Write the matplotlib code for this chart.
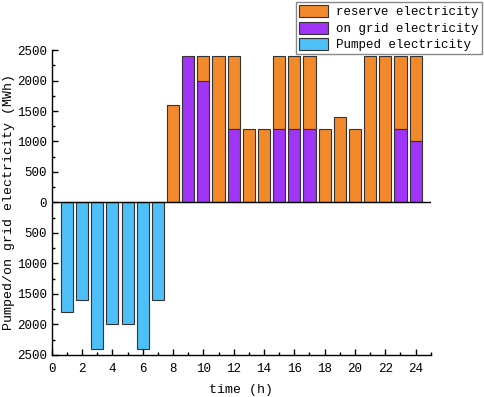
import matplotlib.pyplot as plt
import numpy as np
from matplotlib.ticker import MultipleLocator, FuncFormatter

plt.rcParams['font.family'] = ['Liberation Mono', 'DejaVu Sans Mono']
plt.rcParams['font.size'] = 9

hours = np.arange(1, 25)
pumped = [1800, 1600, 2400, 2000, 2000, 2400, 1600] + [0] * 17
on_grid = [0] * 7 + [0, 2400, 2000, 0, 1200, 0, 0, 1200, 1200, 1200,
                     0, 0, 0, 0, 0, 1200, 1000]
reserve = [0] * 7 + [1600, 0, 400, 2400, 1200, 1200, 1200, 1200, 1200, 1200,
                     1200, 1400, 1200, 2400, 2400, 1200, 1400]

c_reserve = "#F28A2C"
c_grid = "#A035F7"
c_pumped = "#4EC0F8"

fig = plt.figure(figsize=(4.84, 3.97), dpi=100)
ax = fig.add_axes([0.107, 0.106, 0.783, 0.768])

on_grid = np.array(on_grid)
reserve = np.array(reserve)
pumped = np.array(pumped)

m = reserve > 0
ax.bar(hours[m], reserve[m], width=0.8, bottom=on_grid[m], color=c_reserve,
       edgecolor="#333333", linewidth=0.8, label="reserve electricity")
m = on_grid > 0
ax.bar(hours[m], on_grid[m], width=0.8, color=c_grid,
       edgecolor="#333333", linewidth=0.8, label="on grid electricity")
m = pumped > 0
ax.bar(hours[m], -pumped[m], width=0.8, color=c_pumped,
       edgecolor="#333333", linewidth=0.8, label="Pumped electricity")

ax.axhline(0, color="black", linewidth=1)

ax.set_xlim(0, 25)
ax.set_ylim(-2500, 2500)
ax.xaxis.set_major_locator(MultipleLocator(2))
ax.xaxis.set_minor_locator(MultipleLocator(1))
ax.yaxis.set_major_locator(MultipleLocator(500))
ax.yaxis.set_minor_locator(MultipleLocator(250))
ax.yaxis.set_major_formatter(FuncFormatter(lambda v, p: f"{abs(v):.0f}"))
ax.tick_params(which="both", direction="in", width=1)
ax.tick_params(which="major", length=4)
ax.tick_params(which="minor", length=2.5)
ax.tick_params(axis="x", which="major", pad=6)
for s in ["top", "right"]:
    ax.spines[s].set_visible(False)
for s in ["left", "bottom"]:
    ax.spines[s].set_linewidth(1)

ax.set_xlabel("time (h)", fontsize=9.5, labelpad=6)
ax.set_ylabel("Pumped/on grid electricity (MWh)", fontsize=9.5,
              va="center")
ax.yaxis.set_label_coords(-0.113, 0.5)

fig.legend(loc="upper right", bbox_to_anchor=(0.998, 0.998), fancybox=False,
           edgecolor="#888888", framealpha=1, borderpad=0.25, labelspacing=0.25,
           handlelength=2.3, handleheight=1.1, handletextpad=0.65,
           borderaxespad=0.1, fontsize=9)

fig.savefig("out.png", dpi=100)
